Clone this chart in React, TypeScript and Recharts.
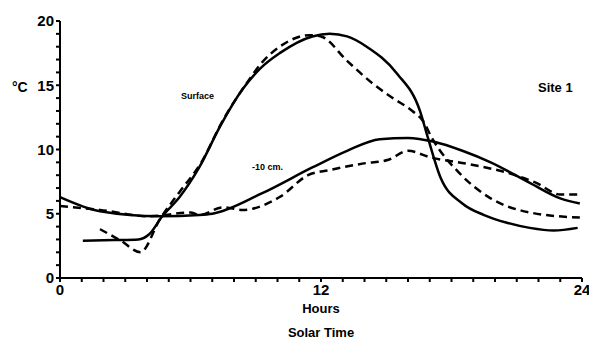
import React from 'react';
import { LineChart, Line, XAxis, YAxis, Label } from 'recharts';

// hour, °C
const surfaceMeasured = [
  [1.05, 2.9], [2.5, 2.95], [3.6, 3.0], [4.1, 3.4], [4.7, 4.8], [5.5, 6.3], [6.4, 8.6],
  [7.36, 11.8], [8.4, 14.7], [9.2, 16.3], [10.1, 17.5], [11.6, 18.8], [12.4, 19.0],
  [13.2, 18.8], [14.1, 18.0], [15.5, 15.9], [16.55, 13.0], [16.9, 11.0], [17.5, 7.8],
  [18.5, 5.8], [19.5, 4.9], [20.55, 4.3], [21.6, 3.9], [22.7, 3.7], [23.8, 3.9],
];
const surfaceModel = [
  [1.84, 3.8], [2.8, 2.9], [3.7, 2.0], [4.6, 4.6], [5.5, 6.7], [6.5, 9.0], [7.5, 12.3],
  [8.6, 15.2], [9.3, 16.8], [10.1, 18.0], [11.5, 18.9], [12.0, 18.8], [13.2, 16.9],
  [14.4, 15.1], [15.3, 14.0], [16.2, 13.0], [16.7, 12.2], [17.1, 10.9], [18.4, 8.1],
  [19.8, 6.2], [21.6, 5.1], [23.9, 4.7],
];
const deepMeasured = [
  [0, 6.3], [1.84, 5.2], [4.6, 4.8], [6.4, 4.9], [7.0, 5.0], [9.3, 6.6], [11.6, 8.6],
  [13.2, 9.9], [14.7, 10.8], [16.0, 10.9], [17.2, 10.6], [18.5, 9.9], [19.8, 9.0],
  [21.6, 7.4], [23.0, 6.2], [23.9, 5.8],
];
const deepModel = [
  [0, 5.6], [1.84, 5.3], [4.1, 4.8], [6.0, 5.1], [6.4, 4.9], [7.5, 5.5], [8.4, 5.3],
  [10.1, 6.3], [11.4, 8.0], [12.4, 8.4], [13.9, 8.9], [15.1, 9.2], [16.0, 9.9],
  [17.0, 9.4], [19.0, 8.8], [20.55, 8.2], [21.9, 7.4], [23.0, 6.5], [23.9, 6.5],
];

const hourTicks = Array.from({ length: 25 }, (_, i) => i);
const tempTicks = Array.from({ length: 21 }, (_, i) => i);
const hourLabels = [0, 12, 24];
const tempLabels = [0, 5, 10, 15, 20];

const toRows = (pts: number[][]) => pts.map(([hour, t]) => ({ hour, t }));

const font = '"Liberation Sans", Arial, sans-serif';

const App: React.FC = () => {
  return (
    <div style={{ position: 'absolute', left: 0, top: 0, width: 589, height: 340, background: '#fff', fontFamily: font }}>
      <LineChart width={589} height={340} margin={{ top: 21, right: 7, left: 0, bottom: 0 }}>
        <XAxis
          type="number"
          dataKey="hour"
          domain={[0, 24]}
          ticks={hourTicks}
          interval={0}
          tickSize={4}
          height={62}
          stroke="#000"
          strokeWidth={2}
          tick={{ fill: '#000', fontSize: 15, fontWeight: 'bold', fontFamily: font }}
          tickFormatter={(v: number) => (hourLabels.includes(v) ? String(v) : '')}
          allowDuplicatedCategory={false}
        >
          <Label value="Hours" position="insideTop" offset={26} fill="#000" fontSize={13} fontWeight="bold" fontFamily={font} />
        </XAxis>
        <YAxis
          type="number"
          domain={[0, 20]}
          ticks={tempTicks}
          interval={0}
          tickSize={4}
          width={60}
          stroke="#000"
          strokeWidth={2}
          tick={{ fill: '#000', fontSize: 15, fontWeight: 'bold', fontFamily: font }}
          tickFormatter={(v: number) => (tempLabels.includes(v) ? String(v) : '')}
        />
        <Line data={toRows(surfaceMeasured)} dataKey="t" type="monotone" stroke="#000" strokeWidth={2.5} dot={false} isAnimationActive={false} />
        <Line data={toRows(surfaceModel)} dataKey="t" type="monotone" stroke="#000" strokeWidth={2.5} strokeDasharray="8 5" dot={false} isAnimationActive={false} />
        <Line data={toRows(deepMeasured)} dataKey="t" type="monotone" stroke="#000" strokeWidth={2.5} dot={false} isAnimationActive={false} />
        <Line data={toRows(deepModel)} dataKey="t" type="monotone" stroke="#000" strokeWidth={2.5} strokeDasharray="8 5" dot={false} isAnimationActive={false} />
      </LineChart>
      <svg width={589} height={340} style={{ position: 'absolute', left: 0, top: 0, pointerEvents: 'none' }}>
        <text x={12} y={92} fontSize={14} fontWeight="bold" fontFamily={font}>°C</text>
        <text x={321} y={337} fontSize={13} fontWeight="bold" fontFamily={font} textAnchor="middle">Solar Time</text>
        <text x={538} y={92} fontSize={13} fontWeight="bold" fontFamily={font}>Site 1</text>
        <text x={181} y={99} fontSize={9} fontWeight="bold" fontFamily={font}>Surface</text>
        <text x={252} y={170} fontSize={9} fontWeight="bold" fontFamily={font}>-10 cm.</text>
      </svg>
    </div>
  );
};

export default App;
